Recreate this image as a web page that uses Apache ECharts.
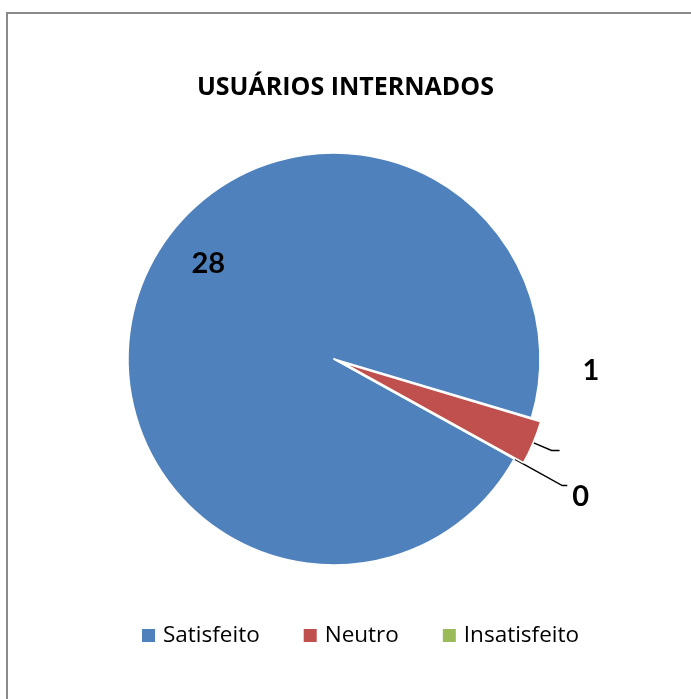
<!DOCTYPE html>
<html>
<head>
<meta charset="utf-8">
<script src="https://cdn.jsdelivr.net/npm/echarts@6/dist/echarts.min.js"></script>
<style>
  html, body { margin: 0; padding: 0; background: #fff; }
  #wrap { position: relative; width: 691px; height: 699px; overflow: hidden; }
  #frame { position: absolute; left: 6px; top: 12px; width: 720px; height: 720px; border: 2px solid #8a8a8a; box-sizing: border-box; }
  #chart { position: absolute; left: 0; top: 0; width: 691px; height: 699px; }
</style>
</head>
<body>
<div id="wrap">
  <div id="frame"></div>
  <div id="chart"></div>
</div>
<script>
// data
const categories = ['Satisfeito', 'Neutro', 'Insatisfeito'];
const values = [28, 1, 0];
const colors = ['#4f81bd', '#c0504d', '#9bbb59'];

const labelFont = 'Lato, sans-serif';
const textFont = '"Open Sans", sans-serif';

// Excel-like label nudges (relative offsets from the default spot)
const labelShift = [
  { dx: -28, dy: -54 },
  { dx: 18, dy: -80 },
  { dx: 0, dy: 11 },
];
const lineTweaks = [
  { length: 15, length2: 10 },
  { length: 20, length2: 8 },
  { length: 55, length2: 5 },
];

const chart = echarts.init(document.getElementById('chart'), null, { renderer: 'canvas' });

const seriesData = categories.map((name, i) => ({
  name: name,
  value: values[i],
  selected: i === 1,
  itemStyle: { color: colors[i] },
  label: { position: i === 0 ? 'inside' : 'outside' },
  labelLine: lineTweaks[i],
}));

chart.setOption({
  animation: false,
  backgroundColor: 'transparent',
  title: {
    text: 'USUÁRIOS INTERNADOS',
    left: 'center',
    top: 70,
    textStyle: { fontFamily: textFont, fontSize: 25, fontWeight: 'bold', color: '#000' },
  },
  legend: {
    bottom: 47,
    left: 135,
    itemWidth: 15,
    itemHeight: 15,
    itemGap: 42,
    icon: 'rect',
    data: categories,
    textStyle: { fontFamily: textFont, fontSize: 22.5, color: '#000', padding: [0, 0, 0, 2] },
  },
  series: [
    {
      type: 'pie',
      center: [334, 359],
      radius: 206,
      startAngle: -29,
      clockwise: true,
      selectedMode: 'single',
      selectedOffset: 10,
      avoidLabelOverlap: false,
      itemStyle: { borderColor: '#fff', borderWidth: 1.5 },
      emphasis: { disabled: true },
      label: {
        show: true,
        formatter: '{c}',
        fontFamily: labelFont,
        fontSize: 29,
        fontWeight: 'bold',
        color: '#000',
      },
      labelLine: {
        show: true,
        lineStyle: { color: '#000', width: 1.5 },
      },
      labelLayout: function (params) {
        const s = labelShift[params.dataIndex];
        return { hideOverlap: false, dx: s.dx, dy: s.dy };
      },
      data: seriesData,
    },
  ],
});
</script>
</body>
</html>
